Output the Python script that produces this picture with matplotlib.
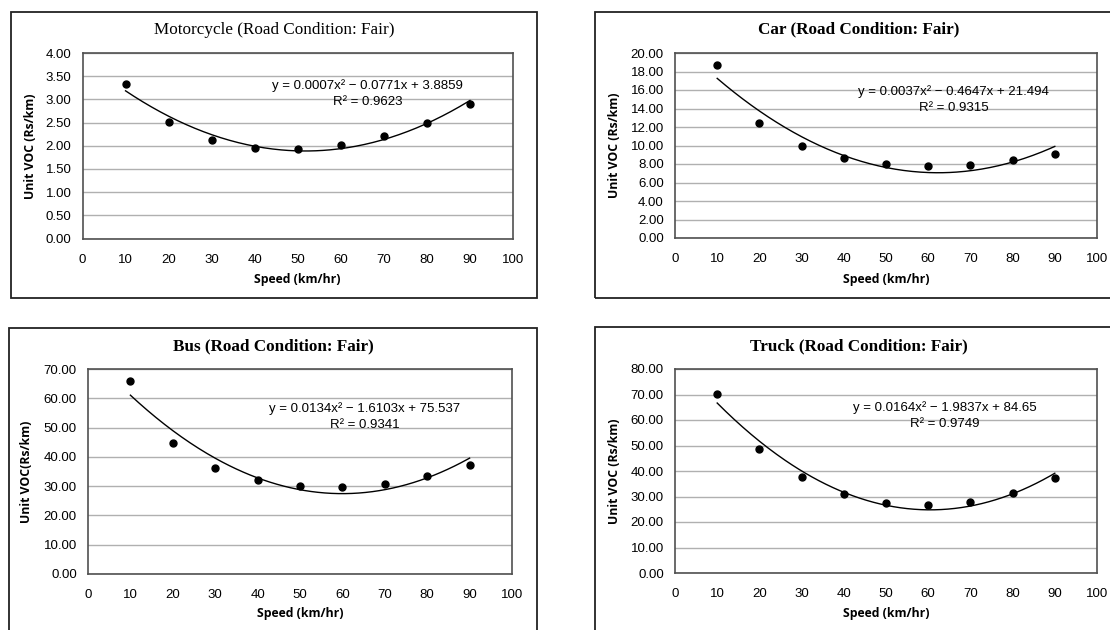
import numpy as np
import matplotlib
matplotlib.use('Agg')
import matplotlib.pyplot as plt
from matplotlib.patches import Rectangle

# Data
speed = [10, 20, 30, 40, 50, 60, 70, 80, 90]

moto_voc = [3.33, 2.51, 2.13, 1.96, 1.93, 2.01, 2.20, 2.50, 2.90]
car_voc = [18.74, 12.38, 9.93, 8.63, 7.98, 7.80, 7.94, 8.41, 9.13]
bus_voc = [65.8, 44.6, 36.3, 32.0, 29.9, 29.7, 30.9, 33.5, 37.1]
truck_voc = [70.2, 48.5, 37.5, 31.0, 27.5, 26.5, 27.8, 31.5, 37.3]

# trendline equations as printed on the chart
equations = ['y = 0.0007x² − 0.0771x + 3.8859', 'y = 0.0037x² − 0.4647x + 21.494',
             'y = 0.0134x² − 1.6103x + 75.537', 'y = 0.0164x² − 1.9837x + 84.65']
r2 = [0.9623, 0.9315, 0.9341, 0.9749]

titles = ['Motorcycle (Road Condition: Fair)', 'Car (Road Condition: Fair)',
          'Bus (Road Condition: Fair)', 'Truck (Road Condition: Fair)']
ylabels = ['Unit VOC (Rs/km)', 'Unit VOC (Rs/km)',
           'Unit VOC(Rs/km)', 'Unit VOC (Rs/km)']
ymax = [4.0, 20.0, 70.0, 80.0]
ystep = [0.5, 2.0, 10.0, 10.0]

W, H = 1110, 630
fig = plt.figure(figsize=(W / 100, H / 100), dpi=100)


def px_box(x0, x1, y0, y1):
    return [x0 / W, 1 - y1 / H, (x1 - x0) / W, (y1 - y0) / H]


# outer chart frames (pixels)
frames = [(11, 537, 12, 298), (595, 1125, 12, 298),
          (9, 537, 328, 645), (595, 1125, 327, 645)]
for x0, x1, y0, y1 in frames:
    fig.patches.append(Rectangle((x0 / W, 1 - y1 / H), (x1 - x0) / W, (y1 - y0) / H,
                                 transform=fig.transFigure, fill=False,
                                 edgecolor='#222222', linewidth=1.3, clip_on=False))

plot_areas = [(82.5, 513, 53, 238.5), (675, 1097, 53, 238),
              (88, 512, 369, 574), (675, 1097, 369, 573)]
title_pos = [(274, 30), (859, 29), (273, 346), (859, 346)]
title_weight = ['normal', 'bold', 'bold', 'bold']
eq_pos = [(66.3, 3.12), (66.0, 14.95), (65.3, 53.8), (63.9, 61.6)]
xlabel_y = [279, 279, 614, 614]
ylabel_x = [30, 614, 27, 614]

series = [moto_voc, car_voc, bus_voc, truck_voc]

for i in range(4):
    ax = fig.add_axes(px_box(*plot_areas[i]))
    ax.set_xlim(0, 100)
    ax.set_ylim(0, ymax[i])
    ax.set_xticks(np.arange(0, 101, 10))
    yt = np.arange(0, ymax[i] + ystep[i] / 2, ystep[i])
    ax.set_yticks(yt)
    ax.set_yticklabels([f'{v:.2f}' for v in yt])
    for lab in ax.get_xticklabels() + ax.get_yticklabels():
        lab.set_fontfamily('Liberation Sans')
        lab.set_fontsize(9.5)
    ax.tick_params(length=0, pad=8, colors='black')
    ax.tick_params(axis='x', pad=11)
    ax.grid(axis='y', color='#b0b0b0', linewidth=1.0)
    ax.set_axisbelow(True)
    for sp in ax.spines.values():
        sp.set_color('#505050')
        sp.set_linewidth(1.2)

    # data points
    ax.plot(speed, series[i], 'o', color='black', markersize=5, zorder=5)

    # second order polynomial trendline (as Excel draws it)
    a, b, c = np.polyfit(speed, series[i], 2)
    xs = np.linspace(speed[0], speed[-1], 200)
    ax.plot(xs, a * xs ** 2 + b * xs + c, color='black', linewidth=1.0, zorder=4)

    eq = f'{equations[i]}\nR² = {r2[i]:.4f}'
    ax.text(eq_pos[i][0], eq_pos[i][1], eq, ha='center', va='center',
            multialignment='center', fontsize=9.5, family='Liberation Sans',
            linespacing=1.45, zorder=6)

    # titles and axis labels in figure pixels
    fig.text(title_pos[i][0] / W, 1 - title_pos[i][1] / H, titles[i],
             ha='center', va='center', family='Liberation Serif', fontsize=12.3,
             fontweight=title_weight[i])
    x0, x1, y0, y1 = plot_areas[i]
    fig.text(((x0 + x1) / 2) / W, 1 - xlabel_y[i] / H, 'Speed (km/hr)',
             ha='center', va='center', family='Open Sans', fontsize=8.8,
             fontweight='bold')
    fig.text(ylabel_x[i] / W, 1 - ((y0 + y1) / 2) / H, ylabels[i],
             ha='center', va='center', rotation=90, family='Open Sans',
             fontsize=8.8, fontweight='bold')

fig.savefig('out.png', dpi=100, facecolor='white')
